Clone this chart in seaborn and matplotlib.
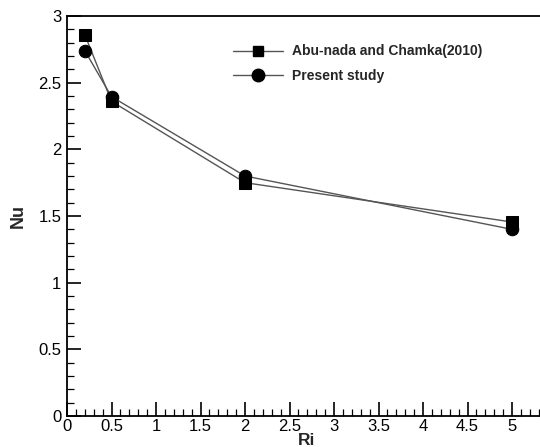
import matplotlib
matplotlib.use("Agg")
import matplotlib.pyplot as plt
import seaborn as sns
import pandas as pd
from matplotlib.ticker import MultipleLocator

ri = [0.2, 0.5, 2.0, 5.0]
nu_abu = [2.86, 2.36, 1.75, 1.455]
nu_present = [2.74, 2.395, 1.80, 1.40]
labels = ["Abu-nada and Chamka(2010)", "Present study"]

df = pd.DataFrame({
    "Ri": ri * 2,
    "Nu": nu_abu + nu_present,
    "series": [labels[0]] * len(ri) + [labels[1]] * len(ri),
})

sns.set_theme(style="white")
plt.rcParams['font.family'] = ['Liberation Sans', 'DejaVu Sans']

fig = plt.figure(figsize=(5.40, 4.47), dpi=100)
ax = fig.add_axes([67/540, (447-416)/447, 1 - 67/540, 400/447])

sns.lineplot(data=df, x="Ri", y="Nu", hue="series", style="series",
             markers={labels[0]: "s", labels[1]: "o"}, dashes=False,
             palette={labels[0]: "#555555", labels[1]: "#555555"},
             linewidth=1.0, markersize=9, markeredgecolor="black",
             ax=ax, legend=False)
for line in ax.lines:
    line.set_markerfacecolor("black")
    line.set_markeredgecolor("black")

ax.set_xlim(0, 473/89)
ax.set_ylim(0, 3)
ax.xaxis.set_minor_locator(MultipleLocator(0.1))
ax.yaxis.set_minor_locator(MultipleLocator(0.1))
ax.set_xticks([0, 0.5, 1, 1.5, 2, 2.5, 3, 3.5, 4, 4.5, 5])
ax.set_xticklabels(["0", "0.5", "1", "1.5", "2", "2.5", "3", "3.5", "4", "4.5", "5"])
ax.set_yticks([0, 0.5, 1, 1.5, 2, 2.5, 3])
ax.set_yticklabels(["0", "0.5", "1", "1.5", "2", "2.5", "3"])
ax.tick_params(which="major", direction="in", length=10, width=1.2, labelsize=12,
               color="black", labelcolor="black", pad=4, bottom=True, left=True)
ax.tick_params(axis="x", which="major", pad=2)
ax.tick_params(which="minor", direction="in", length=5, width=0.9,
               color="black", bottom=True, left=True)
for s in ["left", "bottom", "top"]:
    ax.spines[s].set_visible(True)
    ax.spines[s].set_color("black")
    ax.spines[s].set_linewidth(1.3)
ax.spines["right"].set_visible(False)

ax.set_xlabel("Ri", fontsize=12.5, fontweight="bold")
ax.xaxis.label.set_va("baseline")
ax.xaxis.set_label_coords((307 - 67) / 473, -(445 - 416) / 400)
ax.set_ylabel("Nu", fontsize=13, fontweight="bold", labelpad=8)

h1, = ax.plot([], [], color="#555555", lw=1.0, marker="s", ms=7,
              mfc="black", mec="black")
h2, = ax.plot([], [], color="#555555", lw=1.0, marker="o", ms=9,
              mfc="black", mec="black")
leg = ax.legend([h1, h2], labels, loc="upper left", bbox_to_anchor=(0.325, 0.96),
                frameon=False, prop={"weight": "bold", "size": 10},
                handlelength=3.6, handletextpad=0.6, labelspacing=0.75)

fig.savefig("out.png", dpi=100, facecolor="white")
